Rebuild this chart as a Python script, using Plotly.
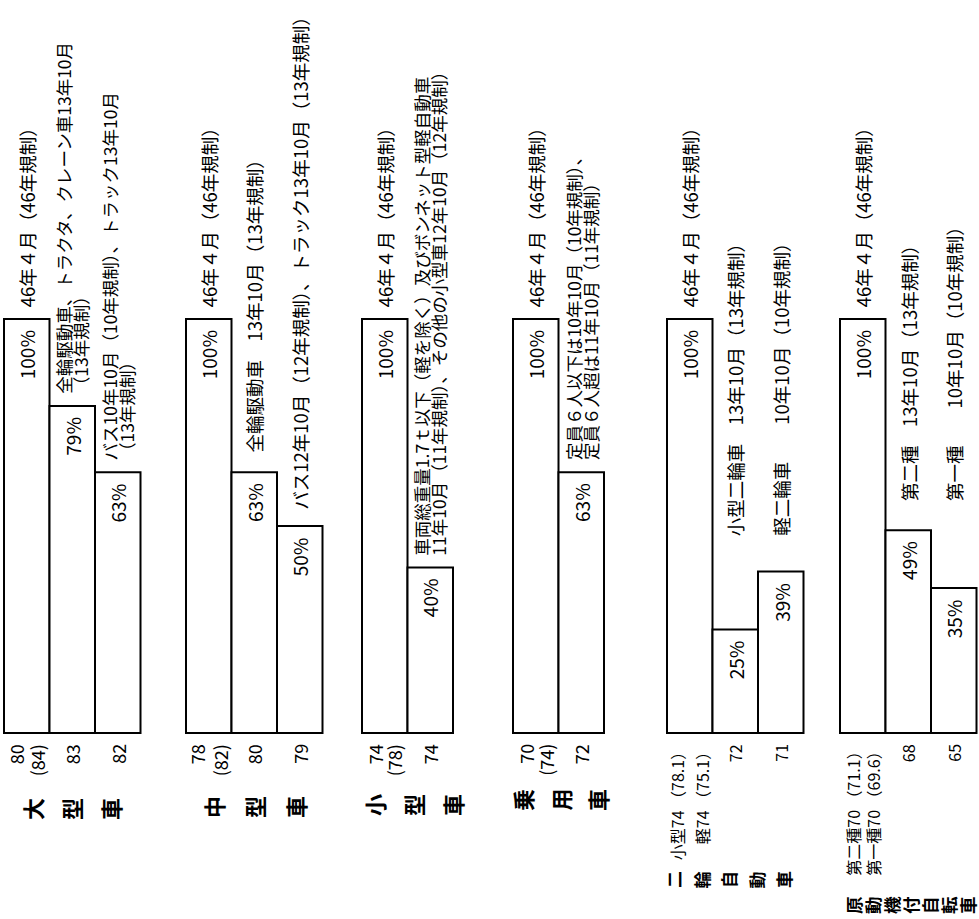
import plotly.graph_objects as go

# ---------------- data ----------------
categories = ["大型車", "中型車", "小型車", "乗用車", "二輪自動車", "原動機付自転車"]

# permitted noise level relative to the 46-year regulation (%)
pct_large = [100, 79, 63]
pct_medium = [100, 63, 50]
pct_small = [100, 40]
pct_passenger = [100, 63]
pct_motorcycle = [100, 25, 39]
pct_moped = [100, 49, 35]
pct_groups = [pct_large, pct_medium, pct_small, pct_passenger, pct_motorcycle, pct_moped]

# regulation notes (one list of text lines per bar)
notes_large = [["46年４月（46年規制）"],
               ["全輪駆動車、トラクタ、クレーン車13年10月", "（13年規制）"],
               ["バス10年10月（10年規制）、トラック13年10月", "（13年規制）"]]
notes_medium = [["46年４月（46年規制）"],
                ["全輪駆動車　13年10月（13年規制）"],
                ["バス12年10月（12年規制）、トラック13年10月（13年規制）"]]
notes_small = [["46年４月（46年規制）"],
               ["車両総重量1.7ｔ以下（軽を除く）及びボンネット型軽自動車",
                "11年10月（11年規制）、その他の小型車12年10月（12年規制）"]]
notes_passenger = [["46年４月（46年規制）"],
                   ["定員６人以下は10年10月（10年規制）、",
                    "定員６人超は11年10月（11年規制）"]]
notes_motorcycle = [["46年４月（46年規制）"],
                    ["小型二輪車　13年10月（13年規制）"],
                    ["軽二輪車　　10年10月（10年規制）"]]
notes_moped = [["46年４月（46年規制）"],
               ["第二種　13年10月（13年規制）"],
               ["第一種　　10年10月（10年規制）"]]
note_groups = [notes_large, notes_medium, notes_small, notes_passenger,
               notes_motorcycle, notes_moped]

# noise levels in dB(A) written under each bar
db_large = [["80", "(84)"], ["83"], ["82"]]
db_medium = [["78", "(82)"], ["80"], ["79"]]
db_small = [["74", "(78)"], ["74"]]
db_passenger = [["70", "(74)"], ["72"]]
db_motorcycle = [["小型74 （78.1）", "軽74 （75.1）"], ["72"], ["71"]]
db_moped = [["第二種70 （71.1）", "第一種70 （69.6）"], ["68"], ["65"]]
db_groups = [db_large, db_medium, db_small, db_passenger, db_motorcycle, db_moped]

# ---------------- layout helpers (not data) ----------------
W, H = 979, 919
BASE_PX = 733          # pixel row of the bar baseline
PX_PER_PCT = 4.14
group_start = [4, 186, 362, 513, 667, 840]
bar_w = 45.5
note_floor = [0, 0, 0, 0, 44.7, 53.1]      # tabulated notes start at this level
note_lift = [[11, 11, 11], [11, 19, 15], [11, 11], [11, 11], [11, 11, 11], [11, 11, 11]]
cat_x0 = [32, 213, 374, 522, 673, 853]
cat_dx = [39, 41, 39, 37.5, 27.5, 19]
cat_y = [809, 807, 805, 800, 880, 905]
cat_fs = [22, 22, 22, 22, 17, 17.5]
db_dx = [21, 23, 19, 20, 25, 20]
db_fs = [18, 18, 18, 18, 16, 16]

FONT = "Noto Sans CJK JP"

xs, ys = [], []
annotations = []


def ann(x, y, text, size, yanchor, yshift=0, weight="normal"):
    annotations.append(dict(x=x, y=y, xref="x", yref="y", text=text, showarrow=False,
                            textangle=-90, xanchor="center", yanchor=yanchor,
                            yshift=yshift,
                            font=dict(family=FONT, size=size, color="black", weight=weight),
                            borderpad=0))


for g, vals in enumerate(pct_groups):
    for i, v in enumerate(vals):
        cx = group_start[g] + (i + 0.5) * bar_w
        xs.append(cx)
        ys.append(v)
        # percentage inside bar
        ann(cx, v, f"{v}%", 19, "top", yshift=-10)
        # notes above bar
        lines = note_groups[g][i]
        n = len(lines)
        sp = 17
        size = 18.5 if n == 1 else 17.5
        for k, line in enumerate(lines):
            ann(cx + (k - (n - 1) / 2) * sp, max(v, note_floor[g]), line, size, "bottom",
                yshift=note_lift[g][i])
        # dB values under bar
        dl = db_groups[g][i]
        m = len(dl)
        for k, line in enumerate(dl):
            ann(cx + (k - (m - 1) / 2) * db_dx[g], 0, line, db_fs[g], "top", yshift=-10)
    # category name, one character at a time
    for j, ch in enumerate(categories[g]):
        ann(cat_x0[g] + j * cat_dx[g], 0, ch, cat_fs[g], "middle",
            yshift=-(cat_y[g] - BASE_PX), weight="bold")

fig = go.Figure(go.Bar(x=xs, y=ys, width=bar_w,
                       marker=dict(color="white", line=dict(color="black", width=2)),
                       hoverinfo="skip"))

fig.update_layout(
    width=W, height=H,
    margin=dict(l=0, r=0, t=0, b=0, pad=0),
    paper_bgcolor="white", plot_bgcolor="white",
    showlegend=False,
    xaxis=dict(range=[0, W], visible=False, fixedrange=True),
    yaxis=dict(range=[-(H - BASE_PX) / PX_PER_PCT, BASE_PX / PX_PER_PCT],
               visible=False, fixedrange=True),
    annotations=annotations,
)

fig.write_html("out.html", config={"displayModeBar": False},
               post_script="document.body.style.margin='0px';document.body.style.overflow='hidden';")
